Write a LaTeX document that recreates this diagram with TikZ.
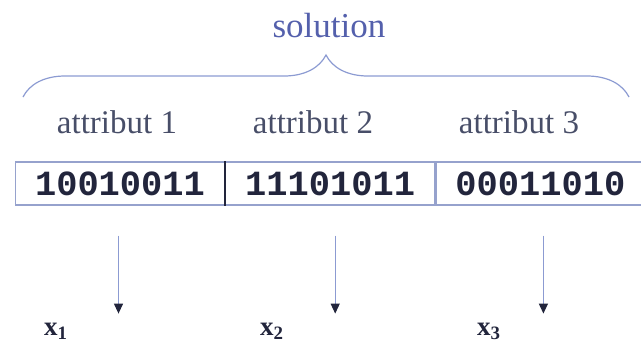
\documentclass[tikz,border=0pt]{standalone}
\usepackage{fontspec}
\setmainfont{Liberation Serif}
\newfontfamily\bitfont{Liberation Mono}
\usetikzlibrary{decorations.pathreplacing,arrows.meta,positioning}
\definecolor{solblue}{RGB}{84,96,172}
\definecolor{bracecol}{RGB}{140,155,210}
\definecolor{framecol}{RGB}{150,162,205}
\definecolor{attrcol}{RGB}{72,78,104}
\definecolor{bitcol}{RGB}{34,37,60}
\begin{document}
\begin{tikzpicture}[x=0.5pt,y=-0.5pt,
  attr/.style={anchor=base,inner sep=0pt,text=attrcol,font=\fontsize{16.5}{19}\selectfont},
  cell/.style={draw=framecol,line width=0.6pt,minimum width=104.5pt,minimum height=21.5pt,
    inner sep=0pt,text=bitcol,font=\bitfont\bfseries\fontsize{17.7}{20}\selectfont},
  var/.style={anchor=base,inner sep=0pt,text=bitcol,font=\bfseries\fontsize{13.5}{15}\selectfont},
  down/.style={draw=bracecol,line width=0.6pt,-{Triangle[length=5pt,width=4.5pt,color=bitcol]}}]
\useasboundingbox (0,0) rectangle (641,355);

% the whole chromosome
\node[anchor=base,inner sep=0pt,text=solblue,font=\fontsize{17.5}{20}\selectfont] (sol) at (329,37) {solution};
\coordinate (bl) at (23,97);
\coordinate (br) at (629,97);
\draw[bracecol,line width=0.6pt,decorate,decoration={brace,amplitude=21pt,aspect=0.5}] (bl) -- (br);

% attribute labels
\node[attr] (a1) at (117,133) {attribut 1};
\node[attr] (a2) at (313,133) {attribut 2};
\node[attr] (a3) at (519,133) {attribut 3};

% one gene per cell
\node[cell] (c1) at (120,183.5) {10010011};
\node[cell,right=0pt of c1] (c2) {11101011};
\node[cell,right=0pt of c2] (c3) {00011010};
\draw[bitcol,line width=0.9pt] (c1.north east) -- (c1.south east);

% decoded variables
\node[var] (x1) at (56,335) {x\textsubscript{1}};
\node[var] (x2) at (272,335) {x\textsubscript{2}};
\node[var] (x3) at (489,335) {x\textsubscript{3}};
\draw[down] ([shift={(-1.5,30)}]c1.south) -- ++(0,78);
\draw[down] ([shift={(5,30)}]c2.south) -- ++(0,78);
\draw[down] ([shift={(3,30)}]c3.south) -- ++(0,78);
\end{tikzpicture}
\end{document}
